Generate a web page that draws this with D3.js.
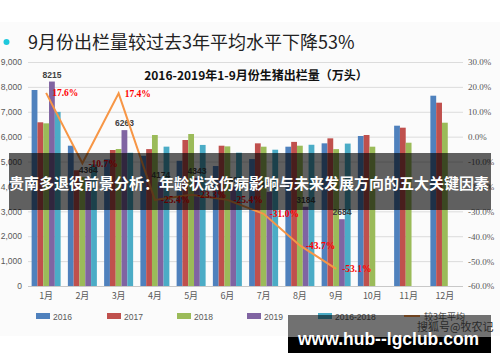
<!DOCTYPE html>
<html><head><meta charset="utf-8">
<script src="https://cdn.jsdelivr.net/npm/d3@7"></script>
<style>body{margin:0;background:#fff} svg{display:block}</style>
</head><body>
<svg id="c" width="500" height="362"></svg>
<script>
// ---- data ----
const months = ['1月','2月','3月','4月','5月','6月','7月','8月','9月','10月','11月','12月'];
const s2016 = [7875, 5637, 5090, 5230, 5030, 4820, 5100, 5597, 5732, 6027, 6441, 7646];
const s2017 = [6577, 4650, 5464, 5500, 5866, 5637, 5732, 5790, 5933, 6067, 6361, 7365];
const s2018 = [6536, 4370, 5504, 6067, 6107, 5610, 5597, 5637, 5500, 5597, 5757, 6561];
const s2019 = [8215, 4364, 6263, 4174, 4343, 3996, 3779, 3184, 2684];
const sAvg  = [6996, 4886, 5353, 5599, 5668, 5356, 5476, 5675, 5722];
const pctVs3y = [17.6, -10.7, 17.4, -25.4, -23.3, -25.4, -31.0, -43.7, -53.1];
const seriesNames = ['2016','2017','2018','2019','2016-2018'];
const leftTicks = [0,1000,2000,3000,4000,5000,6000,7000,8000,9000];
const rightTicks = [-0.6,-0.5,-0.4,-0.3,-0.2,-0.1,0,0.1,0.2,0.3];
const lineName = '较3年平均';
const headline = '9月份出栏量较过去3年平均水平下降53%';
const chartTitle = '2016-2019年1-9月份生猪出栏量（万头）';
const bannerText = '贵南多退役前景分析：年龄状态伤病影响与未来发展方向的五大关键因素';
const siteText = 'www.hub--lgclub.com';
const markText = '搜狐号@牧农记';

const colors = ['#4f81bd','#c0504d','#9bbb59','#8064a2','#4bacc6'];
const allSeries = [s2016, s2017, s2018, s2019, sAvg];

const svg = d3.select('#c');
svg.append('rect').attr('x',0).attr('y',22).attr('width',500).attr('height',314).attr('fill','#fbfbfb');

const x = d3.scaleBand().domain(months).range([28,463]).padding(0);
const bw = x.bandwidth();
const xs = d3.scaleBand().domain(seriesNames).range([(bw-29)/2,(bw+29)/2]).padding(0);
const yL = d3.scaleLinear().domain([0,9000]).range([286,62]);
const yR = d3.scaleLinear().domain([-0.6,0.3]).range([286,62]);

// gridlines
const grid = svg.append('g').attr('transform','translate(28,0)')
  .call(d3.axisLeft(yL).tickValues(leftTicks).tickSize(-435).tickFormat(''));
grid.select('.domain').remove();
grid.selectAll('line').attr('stroke',d=>d===0?'#c8c8c8':'#dcdcdc').attr('stroke-width',1);

// left axis
const ax = svg.append('g').attr('transform','translate(28,0)')
  .call(d3.axisLeft(yL).tickValues(leftTicks).tickSize(0).tickPadding(6));
ax.select('.domain').remove();
ax.selectAll('text').attr('font-family','Liberation Sans, Arial, sans-serif').attr('font-size',8.5).attr('fill','#595959');

// right axis
const ar = svg.append('g').attr('transform','translate(463,0)')
  .call(d3.axisRight(yR).tickValues(rightTicks).tickSize(0).tickPadding(5)
  .tickFormat(d=>(d*100).toFixed(1)+'%'));
ar.select('.domain').remove();
ar.selectAll('text').attr('font-family','Liberation Serif, serif').attr('font-size',9).attr('fill','#595959');

// bottom axis
const ab = svg.append('g').attr('transform','translate(0,286)')
  .call(d3.axisBottom(x).tickSize(0).tickPadding(7));
ab.select('.domain').remove();
ab.selectAll('text').attr('font-family','Noto Sans CJK SC, sans-serif').attr('font-size',9).attr('fill','#595959');

// bars
allSeries.forEach((vals,si)=>{
  svg.append('g').selectAll('rect').data(vals).join('rect')
    .attr('x',(d,i)=>x(months[i])+xs(seriesNames[si]))
    .attr('y',d=>yL(d))
    .attr('width',xs.bandwidth())
    .attr('height',d=>yL(0)-yL(d))
    .attr('fill',colors[si]);
});

// 2019 value labels
svg.append('g').selectAll('text').data(s2019).join('text')
  .attr('x',(d,i)=>x(months[i])+xs('2019')+xs.bandwidth()/2)
  .attr('y',d=>yL(d)-4)
  .attr('text-anchor','middle')
  .attr('font-family','Liberation Sans, Arial, sans-serif').attr('font-weight','bold')
  .attr('font-size',8.5).attr('fill','#404040')
  .text(d=>d);

// line
const cx = i => x(months[i]) + bw/2;
const line = d3.line().x((d,i)=>cx(i)).y(d=>yR(d/100));
svg.append('path').datum(pctVs3y).attr('d',line)
  .attr('fill','none').attr('stroke','#f79646').attr('stroke-width',2);

svg.append('g').selectAll('text').data(pctVs3y).join('text')
  .attr('x',(d,i)=>cx(i)+6)
  .attr('y',d=>yR(d/100)+3.5)
  .attr('font-family','Liberation Serif, serif').attr('font-weight','bold')
  .attr('font-size',9.5).attr('fill','#ff0000')
  .text(d=>d.toFixed(1)+'%');

// chart title
svg.append('text').attr('x',256).attr('y',80).attr('text-anchor','middle')
  .attr('font-family','Noto Sans CJK SC, sans-serif').attr('font-weight','bold')
  .attr('font-size',12).attr('fill','#111').text(chartTitle);

// headline
svg.append('circle').attr('cx',6.5).attr('cy',42).attr('r',3).attr('fill','#1ec8dc');
svg.append('text').attr('x',28).attr('y',48.5)
  .attr('font-family','Noto Sans CJK SC, sans-serif').attr('font-size',18)
  .attr('fill','#222').text(headline);

// legend
const legX = [36,107,177,247,318];
const lg = svg.append('g');
seriesNames.forEach((n,i)=>{
  lg.append('rect').attr('x',legX[i]).attr('y',313).attr('width',14).attr('height',6).attr('fill',colors[i]);
  lg.append('text').attr('x',legX[i]+17).attr('y',319.5)
    .attr('font-family','Liberation Sans, Arial, sans-serif').attr('font-size',8.5).attr('fill','#595959').text(n);
});
lg.append('line').attr('x1',404).attr('x2',420).attr('y1',316).attr('y2',316).attr('stroke','#f79646').attr('stroke-width',2);
lg.append('text').attr('x',424).attr('y',319.5)
  .attr('font-family','Noto Sans CJK SC, sans-serif').attr('font-size',9).attr('fill','#595959').text(lineName);

// overlay banner
svg.append('rect').attr('x',9).attr('y',153).attr('width',482).attr('height',57).attr('fill','rgba(0,0,0,0.62)');
svg.append('text').attr('x',9).attr('y',188.5)
  .attr('font-family','Noto Sans CJK SC, sans-serif').attr('font-weight','bold')
  .attr('font-size',15).attr('fill','#fff').text(bannerText);

// bottom watermark
svg.append('rect').attr('x',288).attr('y',315).attr('width',203).attr('height',22).attr('fill','rgba(0,0,0,0.55)');
svg.append('rect').attr('x',288).attr('y',337).attr('width',203).attr('height',16).attr('fill','#000');
svg.append('text').attr('x',417).attr('y',331)
  .attr('font-family','Noto Sans CJK SC, sans-serif').attr('font-size',11).attr('fill','#2a2a2a').text(markText);
svg.append('text').attr('x',298).attr('y',344.5)
  .attr('font-family','Liberation Sans, Arial, sans-serif').attr('font-weight','bold')
  .attr('font-size',17.5).attr('fill','#fff').text(siteText);
</script>
</body></html>
